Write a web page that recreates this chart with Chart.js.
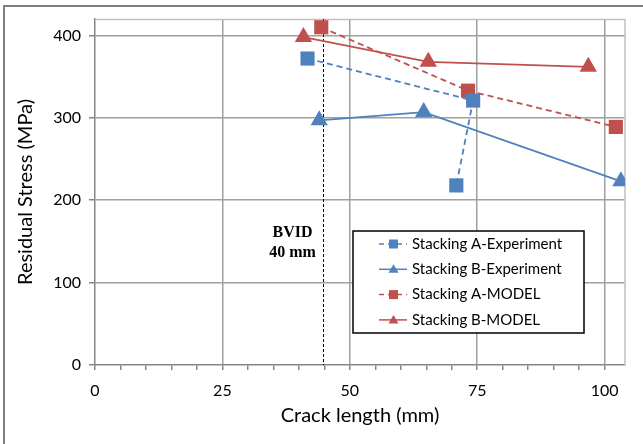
<!DOCTYPE html>
<html>
<head>
<meta charset="utf-8">
<script src="https://cdn.jsdelivr.net/npm/chart.js@4"></script>
<style>
  html, body { margin: 0; padding: 0; background: #fff; }
  #myChart { display: block; }
</style>
</head>
<body>
<canvas id="myChart" width="643" height="444"></canvas>
<script>
// values
const seriesNames = ["Stacking A-Experiment", "Stacking B-Experiment", "Stacking A-MODEL", "Stacking B-MODEL"];
const expA_x = [41.7, 74.2, 70.9];
const expA_y = [372, 321, 218];
const expB_x = [44.0, 64.5, 103.2];
const expB_y = [297, 307, 223];
const modA_x = [44.4, 73.2, 102.2];
const modA_y = [410, 333, 289];
const modB_x = [40.9, 65.4, 96.8];
const modB_y = [398, 368, 362];
const xTicks = [0, 25, 50, 75, 100];
const yTicks = [0, 100, 200, 300, 400];
const bvidX = 44.7;
const bvidText = ["BVID", "40 mm"];

const blue = "#4f81bd";
const red = "#c0504d";
const gridColor = "#a0a0a0";
const axisColor = "#868686";
const font = "Lato";

function pts(xs, ys) {
    let out = [];
    for (let i = 0; i < xs.length; i++) {
        out.push({x: xs[i], y: ys[i]});
    }
    return out;
}

function series(label, xs, ys, color, style, dashed) {
    return {
        label: label,
        data: pts(xs, ys),
        showLine: true,
        borderColor: color,
        backgroundColor: color,
        borderWidth: 1.8,
        borderDash: dashed ? [6, 4] : [],
        pointStyle: style,
        pointRadius: 10,
        pointHoverRadius: 10,
        pointBorderWidth: 0,
        pointBackgroundColor: color
    };
}

// frame, BVID line and the boxed legend
const extras = {
    id: "extras",
    beforeDraw(chart) {
        const c = chart.ctx;
        c.save();
        c.fillStyle = "#fff";
        c.fillRect(0, 0, chart.width, chart.height);
        c.strokeStyle = "#7f7f7f";
        c.lineWidth = 2;
        c.beginPath();
        c.moveTo(4, chart.height);
        c.lineTo(4, 6);
        c.lineTo(chart.width, 6);
        c.stroke();
        c.restore();
    },
    beforeDatasetsDraw(chart) {
        const c = chart.ctx;
        const a = chart.chartArea;
        c.save();
        // top / right border of plot area
        c.strokeStyle = "#c0c0c0";
        c.lineWidth = 1.5;
        c.beginPath();
        c.moveTo(a.left, a.top + 0.5);
        c.lineTo(a.right, a.top + 0.5);
        c.lineTo(a.right, a.bottom);
        c.stroke();
        // BVID dashed line
        const px = Math.round(chart.scales.x.getPixelForValue(bvidX)) + 0.5;
        c.strokeStyle = "#000";
        c.lineWidth = 1;
        c.setLineDash([3, 2]);
        c.beginPath();
        c.moveTo(px, a.top);
        c.lineTo(px, a.bottom);
        c.stroke();
        c.setLineDash([]);
        c.fillStyle = "#000";
        c.font = "bold 16px 'Liberation Serif'";
        c.textAlign = "center";
        c.textBaseline = "middle";
        c.fillText(bvidText[0], px - 31, chart.scales.y.getPixelForValue(160));
        c.fillText(bvidText[1], px - 31, chart.scales.y.getPixelForValue(136));
        c.restore();
    },
    afterDraw(chart) {
        const c = chart.ctx;
        const bx = 353, by = 231, bw = 231, bh = 102;
        c.save();
        c.fillStyle = "#fff";
        c.fillRect(bx, by, bw, bh);
        c.strokeStyle = "#000";
        c.lineWidth = 1.5;
        c.strokeRect(bx, by, bw, bh);
        chart.data.datasets.forEach((ds, i) => {
            const y = by + 13 + i * 25.3;
            c.strokeStyle = ds.borderColor;
            c.lineWidth = 1.5;
            c.setLineDash(ds.borderDash.length ? [5, 4] : []);
            c.beginPath();
            c.moveTo(379, y);
            c.lineTo(407, y);
            c.stroke();
            c.setLineDash([]);
            c.fillStyle = ds.borderColor;
            if (ds.pointStyle === "rect") {
                c.fillRect(389, y - 4.5, 9, 9);
            } else {
                c.beginPath();
                c.moveTo(393.5, y - 5);
                c.lineTo(398.5, y + 3.5);
                c.lineTo(388.5, y + 3.5);
                c.closePath();
                c.fill();
            }
            c.fillStyle = "#000";
            c.font = "15px " + font;
            c.textAlign = "left";
            c.textBaseline = "middle";
            c.fillText(ds.label, 412, y);
        });
        c.restore();
    }
};

new Chart("myChart", {
    type: "scatter",
    data: {
        datasets: [
            series(seriesNames[0], expA_x, expA_y, blue, "rect", true),
            series(seriesNames[1], expB_x, expB_y, blue, "triangle", false),
            series(seriesNames[2], modA_x, modA_y, red, "rect", true),
            series(seriesNames[3], modB_x, modB_y, red, "triangle", false)
        ]
    },
    options: {
        responsive: false,
        animation: false,
        layout: { padding: { top: 19, right: 18, left: 0, bottom: 0 } },
        plugins: {
            legend: { display: false },
            tooltip: { enabled: false }
        },
        scales: {
            x: {
                type: "linear",
                min: 0,
                max: 104,
                afterBuildTicks(scale) {
                    let t = [];
                    for (let v = 0; v <= 100; v += 5) t.push({value: v});
                    scale.ticks = t;
                },
                afterFit(scale) { scale.height = 79; },
                ticks: {
                    autoSkip: false,
                    maxRotation: 0,
                    padding: 11,
                    color: "#000",
                    font: { family: font, size: 16 },
                    callback: (v) => xTicks.includes(v) ? String(v) : ""
                },
                grid: {
                    color: (ctx) => (ctx.tick && xTicks.includes(ctx.tick.value) && ctx.tick.value !== 0) ? gridColor : "rgba(0,0,0,0)",
                    tickColor: axisColor,
                    tickLength: 5,
                    lineWidth: 1.5
                },
                border: { color: axisColor, width: 1.5 },
                title: {
                    display: true,
                    text: "Crack length (mm)",
                    color: "#000",
                    font: { family: font, size: 20 },
                    padding: { top: 0, bottom: 16 }
                }
            },
            y: {
                type: "linear",
                min: 0,
                max: 420,
                afterBuildTicks(scale) {
                    scale.ticks = yTicks.map(v => ({value: v}));
                },
                afterFit(scale) { scale.width = 95; },
                ticks: {
                    padding: 8,
                    color: "#000",
                    font: { family: font, size: 16 },
                    callback: (v) => String(v)
                },
                grid: {
                    color: (ctx) => (ctx.tick && ctx.tick.value !== 0) ? gridColor : "rgba(0,0,0,0)",
                    tickColor: axisColor,
                    tickLength: 6,
                    lineWidth: 1.5
                },
                border: { color: axisColor, width: 1.5 },
                title: {
                    display: true,
                    text: "Residual Stress (MPa)",
                    color: "#000",
                    font: { family: font, size: 20 },
                    padding: { top: 14, bottom: 0 }
                }
            }
        }
    },
    plugins: [extras]
});
</script>
</body>
</html>
